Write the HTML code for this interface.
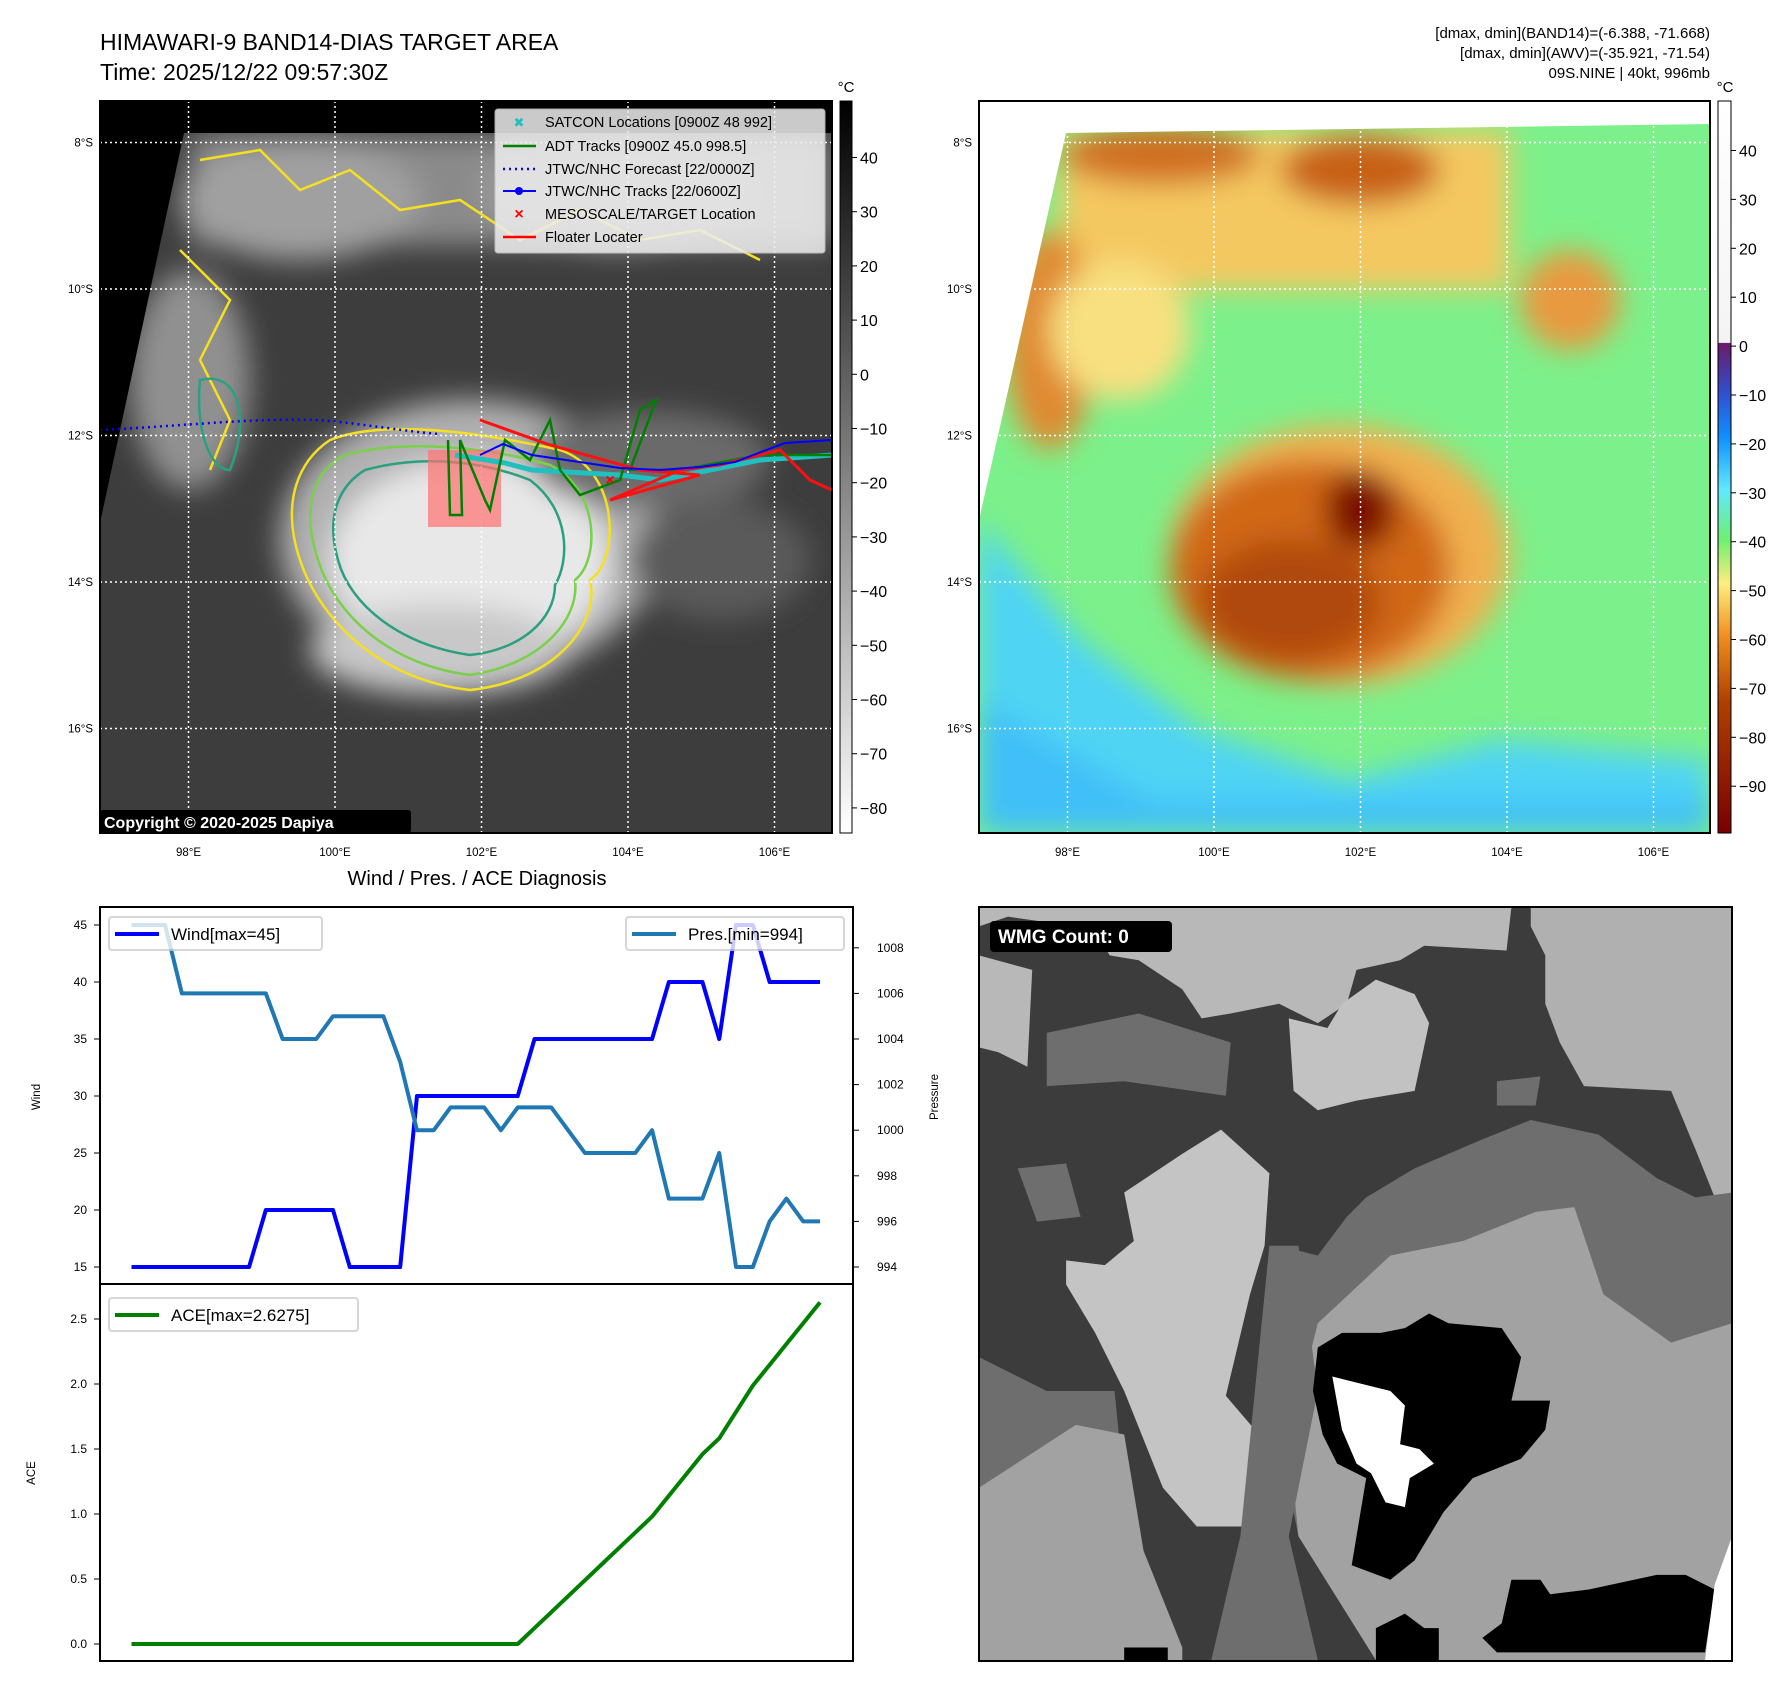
<!DOCTYPE html>
<html><head><meta charset="utf-8"><style>
body{margin:0;background:#fff;width:1792px;height:1690px;overflow:hidden;font-family:"Liberation Sans",sans-serif}
svg{position:absolute;left:0;top:0}
text{font-family:"Liberation Sans",sans-serif}
</style></head><body>
<svg id="s" width="1792" height="1690" viewBox="0 0 1792 1690">
<defs>
<filter id="b15" x="-30%" y="-30%" width="160%" height="160%"><feGaussianBlur stdDeviation="14"/></filter>
<clipPath id="c1"><rect x="100" y="101" width="732" height="732"/></clipPath>
<clipPath id="c2"><rect x="979" y="101" width="731" height="732"/></clipPath>
<clipPath id="c3"><rect x="979" y="907" width="753" height="754"/></clipPath>
<linearGradient id="gray" x1="0" y1="0" x2="0" y2="1"><stop offset="0" stop-color="#000"/><stop offset="1" stop-color="#fff"/></linearGradient>
<linearGradient id="jet" x1="0" y1="0" x2="0" y2="1">
<stop offset="0" stop-color="#fff"/><stop offset="0.33" stop-color="#f4f4f4"/><stop offset="0.331" stop-color="#6a1a6a"/>
<stop offset="0.4" stop-color="#3050d0"/><stop offset="0.46" stop-color="#1090ff"/><stop offset="0.53" stop-color="#60e8ff"/>
<stop offset="0.6" stop-color="#70f070"/><stop offset="0.66" stop-color="#ffee80"/><stop offset="0.73" stop-color="#f09020"/>
<stop offset="0.82" stop-color="#b04000"/><stop offset="1" stop-color="#7a0000"/></linearGradient>
</defs>

<text x="100" y="50" font-size="23">HIMAWARI-9 BAND14-DIAS TARGET AREA</text>
<text x="100" y="80" font-size="23">Time: 2025/12/22 09:57:30Z</text>
<g font-size="15" text-anchor="end">
<text x="1710" y="38">[dmax, dmin](BAND14)=(-6.388, -71.668)</text>
<text x="1710" y="58">[dmax, dmin](AWV)=(-35.921, -71.54)</text>
<text x="1710" y="78">09S.NINE | 40kt, 996mb</text></g>

<!-- LEFT MAP -->
<g clip-path="url(#c1)">
<rect x="100" y="101" width="732" height="732" fill="#3d3d3d"/>
<g filter="url(#b15)">
<rect x="190" y="135" width="640" height="110" fill="#8a8a8a"/>
<ellipse cx="300" cy="200" rx="120" ry="60" fill="#a0a0a0"/>
<ellipse cx="620" cy="190" rx="140" ry="60" fill="#9a9a9a"/>
<ellipse cx="190" cy="380" rx="60" ry="110" fill="#909090"/>
<ellipse cx="470" cy="540" rx="190" ry="140" fill="#b0b0b0"/>
<ellipse cx="470" cy="560" rx="140" ry="100" fill="#e8e8e8"/>
<ellipse cx="440" cy="650" rx="130" ry="45" fill="#c8c8c8"/>
<ellipse cx="650" cy="460" rx="120" ry="50" fill="#6a6a6a"/>
<ellipse cx="720" cy="560" rx="90" ry="60" fill="#5a5a5a"/>
</g>
<polygon points="100,101 832,101 832,133 184,133 100,523" fill="#000"/>
<g fill="none" stroke-width="2.5">
<path d="M330,440 C380,420 470,430 560,450 C620,470 620,560 590,580 C600,620 560,680 470,690 C380,680 320,620 300,560 C280,500 300,460 330,440Z" stroke="#f5e020"/>
<path d="M345,455 C400,440 480,445 550,465 C600,490 600,560 575,580 C580,620 540,665 470,675 C390,665 335,615 318,560 C300,505 315,470 345,455Z" stroke="#7ad04a"/>
<path d="M365,470 C420,455 480,460 530,480 C570,510 570,560 555,585 C555,620 520,650 470,655 C400,645 350,605 338,560 C325,515 340,485 365,470Z" stroke="#2aa080"/>
<path d="M200,160 L260,150 300,190 350,170 400,210 460,200 520,240 580,210 640,240 700,230 760,260 M180,250 L230,300 200,360 230,420 210,470" stroke="#f5e020"/>
<path d="M200,380 C240,370 250,420 230,470 C210,470 195,430 200,380Z" stroke="#2aa080"/>
</g>
<g stroke="#fff" stroke-width="1.5" stroke-dasharray="2,3">
<line x1="188.5" y1="101" x2="188.5" y2="833"/><line x1="335" y1="101" x2="335" y2="833"/><line x1="481.5" y1="101" x2="481.5" y2="833"/><line x1="628" y1="101" x2="628" y2="833"/><line x1="774.5" y1="101" x2="774.5" y2="833"/>
<line x1="100" y1="142.5" x2="832" y2="142.5"/><line x1="100" y1="289" x2="832" y2="289"/><line x1="100" y1="435.5" x2="832" y2="435.5"/><line x1="100" y1="582" x2="832" y2="582"/><line x1="100" y1="728.5" x2="832" y2="728.5"/>
</g>
<rect x="428" y="450" width="73" height="77" fill="#ff7070" opacity="0.7"/>
<path d="M100,430 C200,425 280,415 340,422 C390,428 420,433 440,434" stroke="#0000ff" stroke-width="2.5" stroke-dasharray="2,4" fill="none"/>
<polyline points="455,455 505,463 532,470 620,475 660,480 710,470 760,460 790,458 832,455" stroke="#20c0c0" stroke-width="5" fill="none"/>
<polyline points="448,440 450,515 462,515 460,440 485,500 490,510 505,440 530,460 550,420 560,470 580,495 620,480 640,410 656,400 630,470 680,470 760,455 832,455" stroke="#008000" stroke-width="2.5" fill="none"/>
<polyline points="480,420 550,445 640,470 700,475 610,500 680,470 720,465 780,450 810,480 832,490" stroke="#ff1010" stroke-width="3" fill="none"/>
<polyline points="480,455 503,444 532,455 620,468 660,470 700,467 735,462 785,443 832,440" stroke="#0000ff" stroke-width="2" fill="none"/>
<text x="610" y="485" fill="#ff0000" font-size="16" font-weight="bold" text-anchor="middle">×</text>
</g>
<rect x="100" y="101" width="732" height="732" fill="none" stroke="#000" stroke-width="2"/>
<g>
<rect x="495" y="109" width="330" height="144" rx="3" fill="#eee" opacity="0.85" stroke="#ccc"/>
<g font-size="14.5">
<text x="519" y="127" fill="#20c0c0" font-size="13" text-anchor="middle">✖</text><text x="545" y="127">SATCON Locations [0900Z 48 992]</text>
<line x1="503" y1="146" x2="536" y2="146" stroke="#008000" stroke-width="2.5"/><text x="545" y="151">ADT Tracks [0900Z 45.0 998.5]</text>
<line x1="503" y1="169" x2="536" y2="169" stroke="#0000ff" stroke-width="2.5" stroke-dasharray="2,4"/><text x="545" y="174">JTWC/NHC Forecast [22/0000Z]</text>
<line x1="503" y1="191" x2="536" y2="191" stroke="#0000ff" stroke-width="2"/><circle cx="519" cy="191" r="4" fill="#0000ff"/><text x="545" y="196">JTWC/NHC Tracks [22/0600Z]</text>
<text x="519" y="219" fill="#ff0000" font-size="16" font-weight="bold" text-anchor="middle">×</text><text x="545" y="219">MESOSCALE/TARGET Location</text>
<line x1="503" y1="237" x2="536" y2="237" stroke="#ff0000" stroke-width="2.5"/><text x="545" y="242">Floater Locater</text>
</g></g>
<rect x="100" y="810" width="311" height="23" rx="3" fill="#000"/>
<text x="104" y="828" fill="#fff" font-size="16" font-weight="bold">Copyright © 2020-2025 Dapiya</text>

<rect x="840" y="101" width="12" height="732" fill="url(#gray)" stroke="#000"/>
<text x="846" y="92" font-size="15" text-anchor="middle">°C</text>
<g id="cb1" font-size="16"></g>
<!-- RIGHT MAP -->
<g clip-path="url(#c2)">
<rect x="979" y="101" width="731" height="732" fill="#7cf08a"/>
<g filter="url(#b15)">
<polygon points="979,520 1080,640 1200,730 1350,780 1500,740 1710,760 1710,833 979,833" fill="#50d4f4"/>
<polygon points="979,700 1150,800 1710,800 1710,833 979,833" fill="#40bff8"/>
<rect x="1060" y="130" width="450" height="160" fill="#f4c860"/>
<ellipse cx="1160" cy="155" rx="100" ry="30" fill="#d07020"/>
<ellipse cx="1360" cy="170" rx="80" ry="35" fill="#c86018"/>
<ellipse cx="1050" cy="340" rx="45" ry="110" fill="#e08a30"/>
<ellipse cx="1120" cy="330" rx="70" ry="70" fill="#f8e080"/>
<ellipse cx="1570" cy="300" rx="50" ry="50" fill="#e89a40"/>
<ellipse cx="1340" cy="555" rx="170" ry="130" fill="#f0b050"/>
<ellipse cx="1310" cy="570" rx="140" ry="110" fill="#d06818"/>
<ellipse cx="1290" cy="600" rx="90" ry="60" fill="#b04808"/>
<ellipse cx="1360" cy="510" rx="35" ry="40" fill="#7a1000"/>
</g>
<polygon points="979,101 1710,101 1710,124 1066,133 979,520" fill="#fff"/>
<g stroke="#fff" stroke-width="1.5" stroke-dasharray="2,3">
<line x1="1067.5" y1="101" x2="1067.5" y2="833"/><line x1="1214" y1="101" x2="1214" y2="833"/><line x1="1360.5" y1="101" x2="1360.5" y2="833"/><line x1="1507" y1="101" x2="1507" y2="833"/><line x1="1653.5" y1="101" x2="1653.5" y2="833"/>
<line x1="979" y1="142.5" x2="1710" y2="142.5"/><line x1="979" y1="289" x2="1710" y2="289"/><line x1="979" y1="435.5" x2="1710" y2="435.5"/><line x1="979" y1="582" x2="1710" y2="582"/><line x1="979" y1="728.5" x2="1710" y2="728.5"/>
</g></g>
<rect x="979" y="101" width="731" height="732" fill="none" stroke="#000" stroke-width="2"/>
<rect x="1718" y="101" width="13" height="732" fill="url(#jet)" stroke="#000"/>
<text x="1725" y="92" font-size="15" text-anchor="middle">°C</text>
<g id="cb2" font-size="16"></g>
<g id="maplabels" font-size="11.5"></g>

<!-- BOTTOM RIGHT -->
<g clip-path="url(#c3)">
<rect x="979" y="907" width="753" height="754" fill="#3c3c3c"/>
<g transform="translate(979,907) scale(0.484)">
<polygon points="0,0 1100,0 1090,90 920,80 870,110 780,130 760,200 700,240 620,200 520,220 460,230 420,170 330,110 270,100 240,50 130,30 60,20 0,40" fill="#b8b8b8"/>
<polygon points="0,100 110,130 100,330 40,300 0,290" fill="#b8b8b8"/>
<polygon points="1140,0 1556,0 1556,590 1520,600 1480,500 1430,380 1250,370 1200,280 1170,200 1170,100 1140,40" fill="#b0b0b0"/>
<polygon points="640,230 720,250 750,200 820,150 900,180 930,240 900,380 780,400 700,420 650,380" fill="#c2c2c2"/>
<polygon points="140,260 330,220 520,280 510,390 300,360 140,370" fill="#6e6e6e"/>
<polygon points="80,540 180,530 210,640 120,650" fill="#6e6e6e"/>
<polygon points="1070,360 1160,350 1150,410 1070,410" fill="#6e6e6e"/>
<polygon points="800,600 900,540 1040,480 1140,440 1280,470 1400,560 1480,600 1556,590 1556,1556 820,1556 660,1300 600,1000 620,700 700,720 760,640" fill="#6e6e6e"/>
<polygon points="700,860 850,720 1000,690 1150,630 1230,620 1290,800 1430,900 1556,860 1556,1556 820,1556 660,1300 640,1100" fill="#a2a2a2"/>
<polygon points="300,590 420,510 500,460 600,550 590,700 560,800 510,1010 570,1080 560,1280 450,1280 380,1200 300,1000 240,880 180,780 180,730 260,740 320,690" fill="#c4c4c4"/>
<polygon points="0,930 140,1000 280,1000 300,1200 330,1340 420,1530 300,1556 0,1556" fill="#6e6e6e"/>
<polygon points="0,1200 200,1070 300,1090 340,1330 420,1530 420,1556 0,1556" fill="#a2a2a2"/>
<polygon points="600,700 660,700 700,1000 640,1300 700,1556 480,1556 540,1300" fill="#6e6e6e"/>
<polygon points="700,910 750,880 830,880 880,870 930,840 970,860 1080,870 1120,930 1100,1020 1180,1020 1170,1080 1120,1140 1020,1180 960,1250 900,1350 850,1390 770,1360 800,1180 740,1150 710,1090 690,1000" fill="#000"/>
<polygon points="730,970 770,980 850,1000 880,1030 870,1110 910,1120 940,1150 890,1180 880,1240 840,1230 810,1170 780,1150 750,1080" fill="#fff"/>
<polygon points="1100,1390 1160,1390 1180,1420 1260,1410 1400,1380 1460,1380 1520,1410 1500,1540 1070,1540 1040,1510 1080,1480" fill="#000"/>
<polygon points="820,1490 880,1460 920,1490 950,1490 950,1556 820,1556" fill="#000"/>
<polygon points="300,1530 390,1530 390,1556 300,1556" fill="#000"/>
<polygon points="1520,1400 1556,1300 1556,1556 1500,1556" fill="#fff"/>
</g>
</g>
<rect x="979" y="907" width="753" height="754" fill="none" stroke="#000" stroke-width="2"/>
<rect x="990" y="921" width="182" height="31" rx="4" fill="#000"/>
<text x="998" y="943" fill="#fff" font-size="19" font-weight="bold">WMG Count: 0</text>

<!-- CHARTS -->
<text x="477" y="885" font-size="20" text-anchor="middle">Wind / Pres. / ACE Diagnosis</text>
<g id="charts"></g>
</svg>
<script>
const windVals=[15,15,15,15,15,15,15,15,20,20,20,20,20,15,15,15,15,30,30,30,30,30,30,30,35,35,35,35,35,35,35,35,40,40,40,35,45,45,40,40,40,40];
const presVals=[1009,1009,1009,1006,1006,1006,1006,1006,1006,1004,1004,1004,1005,1005,1005,1005,1003,1000,1000,1001,1001,1001,1000,1001,1001,1001,1000,999,999,999,999,1000,997,997,997,999,994,994,996,997,996,996];
const aceVals=[0,0,0,0,0,0,0,0,0,0,0,0,0,0,0,0,0,0,0,0,0,0,0,0,0.1225,0.245,0.3675,0.49,0.6125,0.735,0.8575,0.98,1.14,1.30,1.46,1.5825,1.785,1.9875,2.1475,2.3075,2.4675,2.6275];
const windTicks=[15,20,25,30,35,40,45];
const presTicks=[994,996,998,1000,1002,1004,1006,1008];
const aceTicks=[0,0.5,1.0,1.5,2.0,2.5];
const ns="http://www.w3.org/2000/svg";
const X0=131.5,X1=820;
const xs=i=>X0+i*(X1-X0)/(windVals.length-1);
const yW=v=>925+(45-v)*(1267-925)/30;
const yP=v=>925+(1009-v)*(1267-925)/15;
const yA=v=>1644-v*(1644-1319)/2.5;
const G=document.getElementById('charts');
function mk(tag,at,parent){const e=document.createElementNS(ns,tag);for(const k in at)e.setAttribute(k,at[k]);(parent||G).appendChild(e);return e;}
function txt(x,y,s,at,parent){const t=mk('text',Object.assign({x:x,y:y},at),parent);t.textContent=s;return t;}
let f1=mk('rect',{x:100,y:907,width:753,height:377,fill:'none',stroke:'#000','stroke-width':2});


let f2=mk('rect',{x:100,y:1284,width:753,height:377,fill:'none',stroke:'#000','stroke-width':2});


windTicks.forEach(v=>{const y=yW(v);mk('line',{x1:94,y1:y,x2:100,y2:y,stroke:'#000'});const t=txt(87,y+4,String(v),{'font-size':12,'text-anchor':'end'});

});
presTicks.forEach(v=>{const y=yP(v);mk('line',{x1:853,y1:y,x2:859,y2:y,stroke:'#000'});const t=txt(877,y+4,String(v),{'font-size':12});

});
aceTicks.forEach(v=>{const y=yA(v);mk('line',{x1:94,y1:y,x2:100,y2:y,stroke:'#000'});const t=txt(87,y+4,v.toFixed(1),{'font-size':12,'text-anchor':'end'});

});
let l1=txt(40,1097,'Wind',{'font-size':11.5,'text-anchor':'middle',transform:'rotate(-90 40 1097)'});


let l2=txt(938,1097,'Pressure',{'font-size':11.5,'text-anchor':'middle',transform:'rotate(-90 938 1097)'});


let l3=txt(35,1473,'ACE',{'font-size':11.5,'text-anchor':'middle',transform:'rotate(-90 35 1473)'});


function line(vals,yf,color,name){const p=mk('polyline',{points:vals.map((v,i)=>xs(i)+','+yf(v)).join(' '),fill:'none',stroke:color,'stroke-width':4,'stroke-linejoin':'round'});

}
line(windVals,yW,'#0000ff','wind-line');
line(presVals,yP,'#1f77b4','pressure-line');
line(aceVals,yA,'#008000','ace-line');
function legend(x,y,w,color,label,name){const g=mk('g',{});


mk('rect',{x:x,y:y,width:w,height:33,rx:3,fill:'#fff',opacity:0.8,stroke:'#ccc','stroke-width':2},g);
mk('line',{x1:x+6,y1:y+17,x2:x+50,y2:y+17,stroke:color,'stroke-width':4},g);
txt(x+62,y+23,label,{'font-size':17},g);}
legend(109,917,213,'#0000ff','Wind[max=45]','wind-legend');
legend(626,917,218,'#1f77b4','Pres.[min=994]','pressure-legend');
legend(109,1298,249,'#008000','ACE[max=2.6275]','ace-legend');
const cb1Ticks=[40,30,20,10,0,-10,-20,-30,-40,-50,-60,-70,-80];
const cb2Ticks=[40,30,20,10,0,-10,-20,-30,-40,-50,-60,-70,-80,-90];
const c1=document.getElementById('cb1'),c2=document.getElementById('cb2');
cb1Ticks.forEach(v=>{const y=157.5+(40-v)*5.42;mk('line',{x1:852,y1:y,x2:857,y2:y,stroke:'#000'},c1);txt(860,y+6,String(v).replace('-','−'),{},c1);});
cb2Ticks.forEach(v=>{const y=150.5+(40-v)*4.89;mk('line',{x1:1731,y1:y,x2:1736,y2:y,stroke:'#000'},c2);txt(1739,y+6,String(v).replace('-','−'),{},c2);});
const lons=['98°E','100°E','102°E','104°E','106°E'];
const lats=['8°S','10°S','12°S','14°S','16°S'];
const ml=document.getElementById('maplabels');
[0,879].forEach(off=>{lons.forEach((s,i)=>{txt(188.5+off+i*146.5,856,s,{'text-anchor':'middle'},ml);});
lats.forEach((s,i)=>{txt(93+off,146.5+i*146.5,s,{'text-anchor':'end'},ml);});});
</script>
</body></html>
